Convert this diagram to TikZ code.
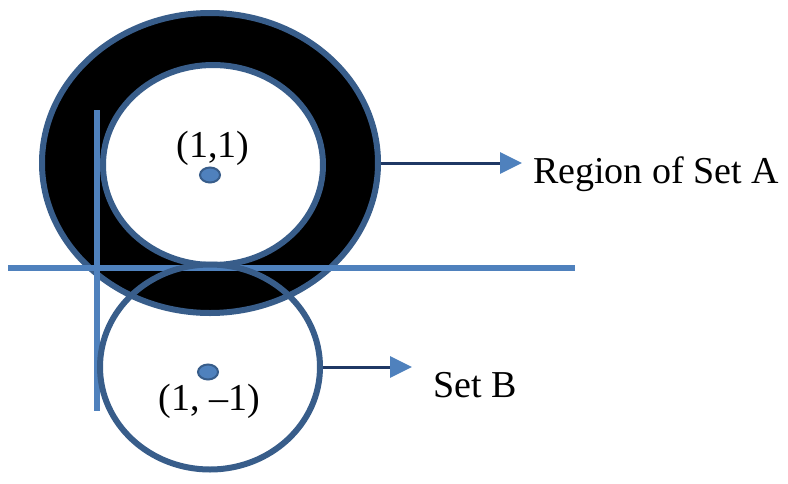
\documentclass[tikz,border=0pt]{standalone}
\usepackage{fontspec}
\setmainfont{Liberation Serif}
\usetikzlibrary{arrows.meta,shapes.geometric}

\definecolor{ringblue}{RGB}{56,93,138}
\definecolor{axisblue}{RGB}{79,129,189}
\definecolor{navyline}{RGB}{31,56,100}

\tikzset{
	set outline/.style={ellipse, draw=ringblue, line width=6pt, inner sep=0pt},
	axis line/.style={draw=axisblue, line width=5.5pt},
	centre dot/.style={ellipse, draw=ringblue, fill=axisblue, line width=2pt, inner sep=0pt, minimum width=20pt, minimum height=15pt},
	pointer/.style={draw=navyline, line width=3pt, -{Triangle[length=22pt,width=21pt,fill=axisblue,color=axisblue]}},
	big label/.style={inner sep=0pt, font=\fontsize{38}{40}\selectfont}}

\begin{document}
\begin{tikzpicture}[x=1pt,y=1pt,yscale=-1,xscale=1]
	\useasboundingbox (0,0) rectangle (788,483);

	%Ellipses of set A
	\node [set outline, fill=black, minimum width=336pt, minimum height=300pt] (outerA) at (210,163) {};
	\node [set outline, fill=white, minimum width=220pt, minimum height=200pt] (innerA) at (213,165) {};

	%Straight Lines
	\coordinate (xleft) at (8,268);
	\coordinate (xright) at (575,268);
	\coordinate (ytop) at (97,110);
	\coordinate (ybottom) at (97,411);
	\draw [axis line] (xleft) -- (xright);
	\draw [axis line] (ytop) -- (ybottom);

	%Circle of set B
	\node [set outline, minimum width=220pt, minimum height=205pt] (setB) at (210,367) {};

	%Centres
	\node [centre dot] (dotA) at (210,175) {};
	\node [centre dot] (dotB) at (208,372) {};

	% Text Node
	\node [big label] (coordA) at (213,148) {(1,1)};
	% Text Node
	\node [big label] (coordB) at (209,401) {(1, --1)};
	% Text Node
	\node [big label, anchor=base west] (labelA) at (533,183) {Region of Set A};
	% Text Node
	\node [big label, anchor=base west] (labelB) at (433,397) {Set B};

	%Arrows
	\draw [pointer] (outerA.east) -- ([xshift=-11pt]labelA.west |- outerA.east);
	\draw [pointer] (setB.east) -- ([xshift=-21pt]labelB.west |- setB.east);

\end{tikzpicture}
\end{document}
